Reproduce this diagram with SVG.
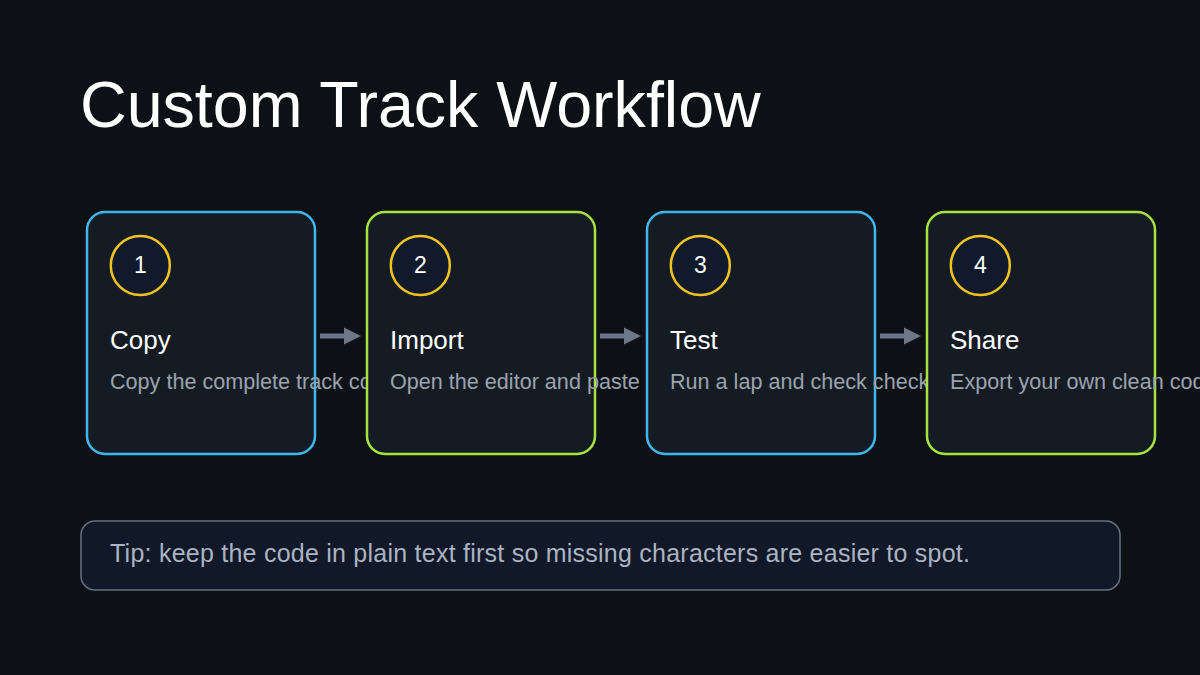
<svg xmlns="http://www.w3.org/2000/svg" width="1200" height="675" viewBox="0 0 1200 675">
<defs>
<style>
.card{fill:#151b23;stroke-width:2.5}
.blue{stroke:#3fb6ef}
.green{stroke:#a6e33f}
.badge{fill:#111a2b;stroke:#f1c31f;stroke-width:2.5}
.num{font-family:"Liberation Sans",Arial,sans-serif;font-size:23px;fill:#ffffff;text-anchor:middle}
.ttl{font-family:"Liberation Sans",Arial,sans-serif;font-size:26px;fill:#ffffff}
.desc{font-family:"Liberation Sans",Arial,sans-serif;font-size:21.6px;fill:#9aa3ae}
.conn{stroke:#6b7789;stroke-width:5;fill:none}
</style>
<marker id="ah" viewBox="0 0 10 10" refX="0" refY="5" markerWidth="3.4" markerHeight="4.4" markerUnits="strokeWidth" orient="auto">
<path d="M0,0 L10,5 L0,10 z" fill="#6b7789"/>
</marker>
</defs>
<rect width="1200" height="675" fill="#0d1116"/>
<text x="80" y="127" font-family="'Liberation Sans',Arial,sans-serif" font-size="64.6" fill="#ffffff">Custom Track Workflow</text>
<g id="connectors">
<line class="conn" x1="320" y1="336" x2="344" y2="336" marker-end="url(#ah)"/>
<line class="conn" x1="600" y1="336" x2="624" y2="336" marker-end="url(#ah)"/>
<line class="conn" x1="880" y1="336" x2="904" y2="336" marker-end="url(#ah)"/>
</g>
<g id="step1">
<rect class="card blue" x="87" y="212" width="228" height="242" rx="18"/>
<circle class="badge" cx="140.3" cy="265.5" r="29.5"/>
<text class="num" x="140.3" y="273">1</text>
<text class="ttl" x="110" y="349">Copy</text>
<text class="desc" x="110" y="389">Copy the complete track code</text>
</g>
<g id="step2">
<rect class="card green" x="367" y="212" width="228" height="242" rx="18"/>
<circle class="badge" cx="420.3" cy="265.5" r="29.5"/>
<text class="num" x="420.3" y="273">2</text>
<text class="ttl" x="390" y="349">Import</text>
<text class="desc" x="390" y="389">Open the editor and paste</text>
</g>
<g id="step3">
<rect class="card blue" x="647" y="212" width="228" height="242" rx="18"/>
<circle class="badge" cx="700.3" cy="265.5" r="29.5"/>
<text class="num" x="700.3" y="273">3</text>
<text class="ttl" x="670" y="349">Test</text>
<text class="desc" x="670" y="389">Run a lap and check checkpoints</text>
</g>
<g id="step4">
<rect class="card green" x="927" y="212" width="228" height="242" rx="18"/>
<circle class="badge" cx="980.3" cy="265.5" r="29.5"/>
<text class="num" x="980.3" y="273">4</text>
<text class="ttl" x="950" y="349">Share</text>
<text class="desc" x="950" y="389">Export your own clean code</text>
</g>
<g id="tip">
<rect x="81" y="521" width="1039" height="69" rx="14" fill="#111827" stroke="#657083" stroke-width="1.5"/>
<text x="110" y="562" font-family="'Liberation Sans',Arial,sans-serif" font-size="25" fill="#aab4c2" textLength="860" lengthAdjust="spacing">Tip: keep the code in plain text first so missing characters are easier to spot.</text>
</g>
</svg>
